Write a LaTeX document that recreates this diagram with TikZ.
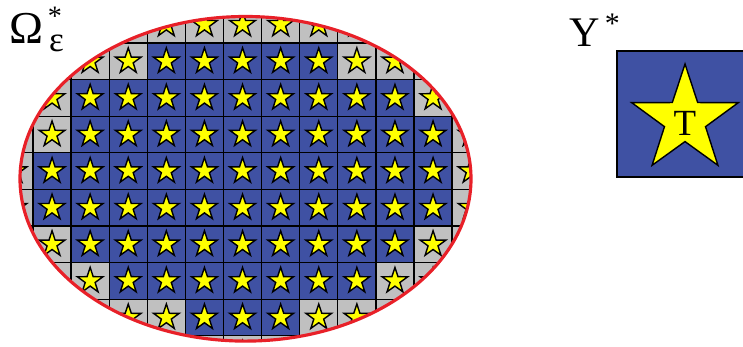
\documentclass[tikz,border=0pt]{standalone}
\usepackage{fontspec}
\setmainfont{Liberation Serif}
\usepackage{xcolor}
\usepackage{tikz}

\definecolor{cellblue}{RGB}{63,81,163}
\definecolor{cellgray}{RGB}{192,192,192}
\definecolor{staryellow}{RGB}{255,255,0}
\definecolor{rimred}{RGB}{232,32,40}

\begin{document}
\begin{tikzpicture}[x=0.02cm, y=-0.02cm,
  cellline/.style={draw=black, line width=0.7pt},
  starline/.style={draw=black, line width=0.8pt, fill=staryellow, line join=miter},
  rimline/.style={draw=rimred, line width=1.8pt},
  cellstar/.pic={
    \draw[starline] plot[samples at={0,...,9}]
      ({(mod(\x,2)==0 ? 13.5 : 5.2)*cos(90+36*\x)},{-(mod(\x,2)==0 ? 13.5 : 5.2)*sin(90+36*\x)}) -- cycle;
  }]
  \useasboundingbox (0,0) rectangle (743,347);
  % Periodic cells inside the domain
  \def\bluefirst{{99,4,2,2,1,1,2,3,5,99}}
  \def\bluelast{{-1,8,10,11,11,11,10,9,7,-1}}
  \begin{scope}
    \clip (245.5,178.8) ellipse [x radius=225.5, y radius=162.3];
    \foreach \j in {0,...,9} {
      \foreach \i in {0,...,12} {
        \pgfmathtruncatemacro\isblue{(\i>=\bluefirst[\j]) && (\i<=\bluelast[\j])}
        \ifnum\isblue=1 \def\cellcol{cellblue}\else \def\cellcol{cellgray}\fi
        \fill[\cellcol] (-5.1+\i*38.1,6.4+\j*36.6) rectangle ++(38.1,36.6);
      }
    }
    % grid lines
    \foreach \i in {0,...,13}
      \draw[cellline] (-5.1+\i*38.1,0) -- (-5.1+\i*38.1,380);
    \foreach \j in {0,...,10}
      \draw[cellline] (-10,6.4+\j*36.6) -- (500,6.4+\j*36.6);
    \foreach \j in {0,...,9}
      \foreach \i in {0,...,12}
        \pic at (-5.1+\i*38.1+19.05,6.4+\j*36.6+18.3) {cellstar};
  \end{scope}
  % Boundary of the domain
  \draw[rimline] (245.5,178.8) ellipse [x radius=225.5, y radius=162.3];
  % Reference cell
  \begin{scope}
    \clip (0,0) rectangle (743,347);
    \draw[cellline, fill=cellblue] (617,51) rectangle (752,177);
  \end{scope}
  \pic[scale=4.15] at (685,120) {cellstar};
  \node[inner sep=0, font=\fontsize{21}{21}\selectfont] (tlabel) at (685,123) {T};
  % Labels
  \node[inner sep=0, anchor=base west, font=\fontsize{26}{26}\selectfont] (omega) at (9,44)
    {Ω\rlap{\raisebox{0.41em}{\fontsize{16}{16}\selectfont\,*}}\raisebox{-0.16em}{\fontsize{20}{20}\selectfont\,ε}};
  \node[inner sep=0, anchor=base west, font=\fontsize{24}{24}\selectfont] (ylabel) at (569,47)
    {Y\raisebox{0.33em}{\fontsize{17}{17}\selectfont\,*}};
\end{tikzpicture}
\end{document}
